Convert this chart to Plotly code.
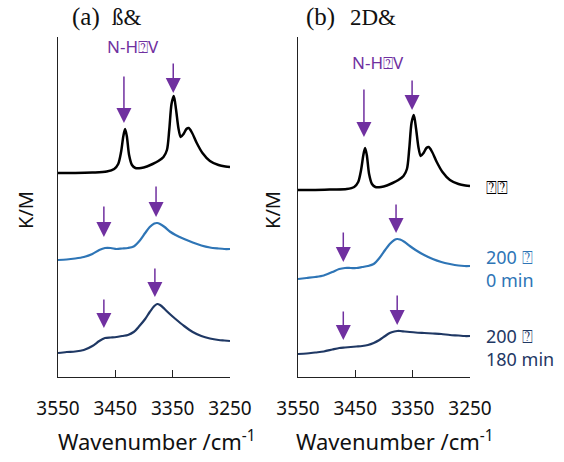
import plotly.graph_objects as go

# ---------------- data ----------------
tick_vals = [3550, 3450, 3350, 3250]

wn_sharp = [3550, 3520, 3490, 3465, 3452, 3445, 3440, 3436, 3433, 3430, 3426, 3421, 3415, 3405,
            3395, 3385, 3375, 3366, 3360, 3356, 3352, 3348, 3344, 3340, 3336, 3331, 3326, 3322,
            3316, 3308, 3298, 3285, 3270, 3258, 3250]
black_a = [204, 204, 204.5, 205.5, 208, 213, 225, 241, 248, 241, 222, 212, 209, 209, 210.5, 213,
           216, 220, 227, 247, 273, 281, 267, 249, 240, 243, 248, 249, 244, 234, 224, 216, 212,
           210.5, 210]
black_b = [187, 187, 187.5, 188, 190, 195, 207, 222, 229, 222, 203, 193, 190, 190, 191.5, 194,
           197, 201, 208, 228, 254, 262, 248, 230, 221, 224, 229, 230, 225, 215, 205, 197, 193,
           191.5, 191]

wn_broad = [3550, 3535, 3520, 3505, 3490, 3478, 3468, 3458, 3448, 3438, 3428, 3418, 3408, 3398,
            3390, 3382, 3377, 3372, 3364, 3355, 3345, 3330, 3315, 3300, 3285, 3270, 3260, 3250]
blue_a = [117, 117.5, 118.5, 120, 123, 127, 129, 129, 128, 128.5, 129, 130.5, 136, 144, 150,
          153.5, 154, 153, 150, 145.5, 142, 138, 134.5, 131.5, 129.5, 128.5, 128, 128]
navy_a = [24, 25, 25.5, 27, 31, 36, 39, 39.5, 40, 41, 42, 45, 51, 58, 65, 71, 73, 72, 68, 63, 58,
          51, 45, 41, 38.5, 37, 36.5, 36]
blue_b = [98, 99, 100, 101.5, 105, 108, 109, 109, 109, 110, 111, 113, 119, 127, 133, 137, 138,
          137.5, 135, 131, 127, 122, 118, 115, 113, 111.5, 111, 111]
navy_b = [23, 23.5, 24.5, 25.5, 27.5, 29, 29.5, 30, 30.5, 31, 32, 34, 37, 41, 44, 45.5, 46, 46,
          45.5, 45, 44.5, 44, 43.5, 43, 42, 41.5, 41, 41]

# arrows: (wavenumber of tip, intensity of tip, shaft length)
arrows_a_wn = [3435, 3349, 3470, 3379, 3470, 3381]
arrows_a_y = [254, 284, 140, 160, 49, 80]
arrows_a_len = [48, 31, 32, 32, 30, 30]
arrows_b_wn = [3435, 3351, 3471, 3379, 3471, 3377]
arrows_b_y = [240, 267, 115, 144, 37, 52]
arrows_b_len = [49, 31, 31, 30, 30, 31]

series_labels = ["⍰⍰", "200 ⍰<br>0 min", "200 ⍰<br>180 min"]

# ---------------- styles ----------------
BLACK = "#000000"
BLUE = "#2e75b6"
NAVY = "#1f3864"
PURPLE = "#7030a0"
FONT = "Noto Sans"

fig = go.Figure()
for xs, ys, col, w, ax in [
    (wn_sharp, black_a, BLACK, 2.5, "x"), (wn_broad, blue_a, BLUE, 2.2, "x"),
    (wn_broad, navy_a, NAVY, 2.2, "x"),
    (wn_sharp, black_b, BLACK, 2.5, "x2"), (wn_broad, blue_b, BLUE, 2.2, "x2"),
    (wn_broad, navy_b, NAVY, 2.2, "x2"),
]:
    fig.add_trace(go.Scatter(x=xs, y=ys, mode="lines", xaxis=ax,
                             yaxis="y" if ax == "x" else "y2",
                             line=dict(color=col, width=w, shape="spline", smoothing=0.8),
                             showlegend=False, hoverinfo="skip"))

ydom = [85 / 462, 425 / 462]
xcommon = dict(range=[3550, 3250], tickvals=tick_vals, ticks="inside", ticklen=7,
               tickcolor="#222", showline=True, linecolor="#222", linewidth=1.2,
               showgrid=False, zeroline=False, ticklabelstandoff=14, automargin=False,
               tickfont=dict(family=FONT, size=19, color="#111"))
ycommon = dict(range=[0, 340], showline=True, linecolor="#222", linewidth=1.2,
               showticklabels=False, ticks="", showgrid=False, zeroline=False, domain=ydom,
               automargin=False)

fig.update_layout(
    width=564, height=462, margin=dict(l=0, r=0, t=0, b=0, pad=0, autoexpand=False),
    plot_bgcolor="white", paper_bgcolor="white", showlegend=False,
    xaxis=dict(domain=[58 / 564, 230 / 564], anchor="y", **xcommon),
    xaxis2=dict(domain=[298 / 564, 470 / 564], anchor="y2", **xcommon),
    yaxis=dict(anchor="x", **ycommon),
    yaxis2=dict(anchor="x2", **ycommon),
)

anns = []
for xr, yr, wns, ys, lens in [("x", "y", arrows_a_wn, arrows_a_y, arrows_a_len),
                              ("x2", "y2", arrows_b_wn, arrows_b_y, arrows_b_len)]:
    for wv, yv, ln in zip(wns, ys, lens):
        anns.append(dict(x=wv, y=yv, xref=xr, yref=yr, text="", showarrow=True,
                         ax=0, ay=-ln, arrowhead=2, arrowsize=2, arrowwidth=1.5,
                         arrowcolor=PURPLE))


def ptext(x, y, text, size, color, family=FONT, xanchor="center", angle=0, align="center"):
    anns.append(dict(x=x / 564, y=1 - y / 462, xref="paper", yref="paper", text=text,
                     showarrow=False, xanchor=xanchor, yanchor="middle", textangle=angle,
                     align=align, font=dict(family=family, size=size, color=color)))


ptext(86, 17, "(a)", 25, "#111", family="Liberation Serif")
ptext(127, 17, "ß&", 23, "#111", family="Liberation Serif")
ptext(320, 17, "(b)", 25, "#111", family="Liberation Serif")
ptext(373, 17, "2D&", 23, "#111", family="Liberation Serif")
ptext(133, 47, "N-H⍰V", 17, PURPLE)
ptext(378, 62, "N-H⍰V", 17, PURPLE)
ptext(484, 187, series_labels[0], 18, BLACK, xanchor="left", align="left")
ptext(484, 268, series_labels[1], 18, BLUE, xanchor="left", align="left")
ptext(484, 347, series_labels[2], 18, NAVY, xanchor="left", align="left")
ptext(25, 210, "K/M", 20, "#111", angle=-90)
ptext(272, 210, "K/M", 20, "#111", angle=-90)
ptext(157, 440, "Wavenumber /cm<sup>-1</sup>", 22, "#111")
ptext(395, 440, "Wavenumber /cm<sup>-1</sup>", 22, "#111")
fig.update_layout(annotations=anns)

fig.write_html("out.html")
